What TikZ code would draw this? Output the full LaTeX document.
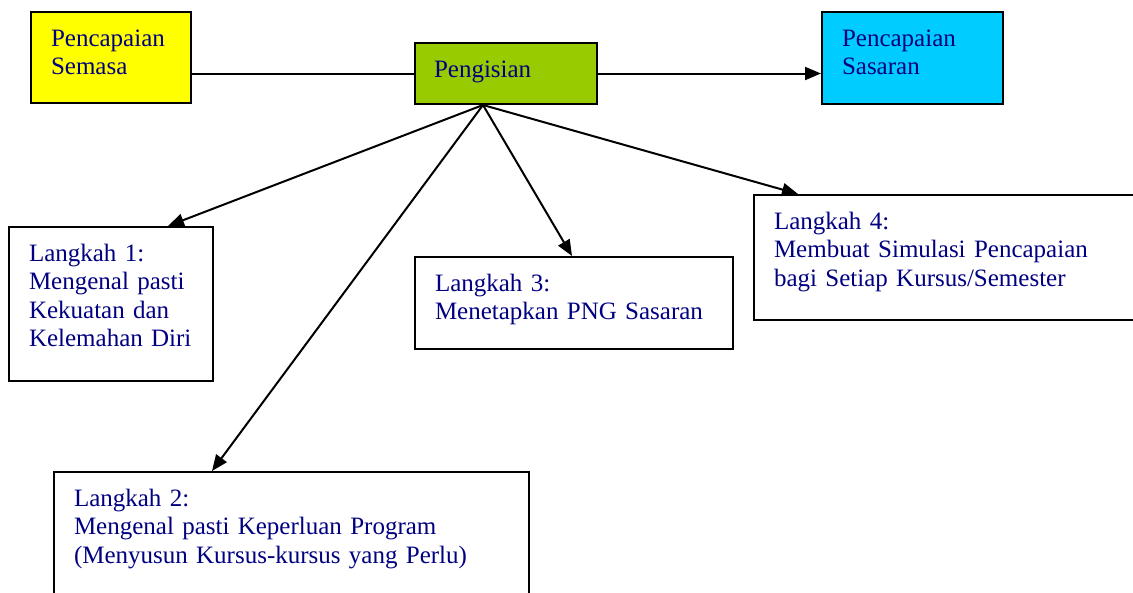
\documentclass[tikz,border=0pt]{standalone}
\usepackage{fontspec}
\setmainfont{Liberation Serif}
\usetikzlibrary{arrows.meta}
\definecolor{txtblue}{RGB}{0,0,128}
\definecolor{semasayellow}{RGB}{255,255,0}
\definecolor{isigreen}{RGB}{153,204,0}
\definecolor{sasarancyan}{RGB}{0,204,255}

\begin{document}
\begin{tikzpicture}[x=1pt, y=-1pt,
    every node/.style={font=\fontsize{25}{28.5}\selectfont, text=txtblue},
    box/.style={draw, line width=2pt, anchor=north west, align=left,
        inner xsep=20pt, inner ysep=0pt, text height=34pt},
    arrow/.style={line width=2pt, -{Triangle[length=16pt,width=13pt]}}]
    \useasboundingbox (0,0) rectangle (1133,592);
    \clip (0,0) rectangle (1133,592);
    % top row
    \node[box, fill=semasayellow, text width=120pt, text depth=57pt]
        (semasa) at (30,11) {Pencapaian\\Semasa};
    \node[box, fill=isigreen, inner xsep=19pt, text width=144pt, text depth=27pt]
        (isi) at (414,42) {Pengisian};
    \node[box, fill=sasarancyan, text width=141pt, text depth=58pt]
        (sasaran) at (821,11) {Pencapaian\\Sasaran};
    % steps
    \node[box, text width=164pt, text depth=120pt] (l1) at (8,226)
        {Langkah 1:\\Mengenal pasti\\Kekuatan dan\\Kelemahan Diri};
    \node[box, text width=435pt, text depth=106pt] (l2) at (53,471)
        {Langkah 2:\\Mengenal pasti Keperluan Program\\(Menyusun Kursus-kursus yang Perlu)};
    \node[box, text width=278pt, text depth=58pt] (l3) at (414,256)
        {Langkah 3:\\Menetapkan PNG Sasaran};
    \node[box, text width=367pt, text depth=91pt] (l4) at (753,194)
        {Langkah 4:\\Membuat Simulasi Pencapaian\\bagi Setiap Kursus/Semester};
    % connectors
    \draw[line width=2pt] (isi.west) -- (isi.west -| semasa.east);
    \draw[arrow] (isi.east) -- (isi.east -| sasaran.west);
    \coordinate (hub) at ([xshift=69pt]isi.south west);
    \draw[arrow] (hub) -- ([xshift=160pt]l1.north west);
    \draw[arrow] (hub) -- ([xshift=159pt]l2.north west);
    \draw[arrow] (hub) -- ([xshift=158pt]l3.north west);
    \draw[arrow] (hub) -- ([xshift=45pt]l4.north west);
\end{tikzpicture}
\end{document}
